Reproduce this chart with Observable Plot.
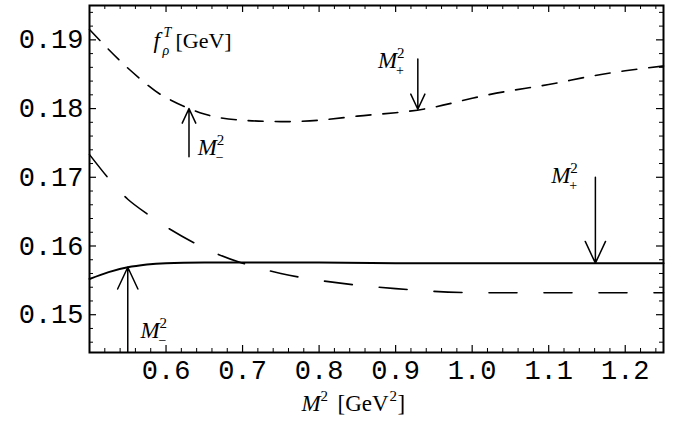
<!DOCTYPE html>
<html><head><meta charset="utf-8">
<script src="https://cdn.jsdelivr.net/npm/d3@7"></script>
<script src="https://cdn.jsdelivr.net/npm/@observablehq/plot@0.6"></script>
<style>body{margin:0;background:#fff}</style>
</head><body><div id="chart"></div>
<script>
// Upper short-dashed curve
const upperX = [0.50, 0.525, 0.55, 0.575, 0.60, 0.65, 0.70, 0.75, 0.80, 0.85, 0.90, 0.95, 1.00, 1.05, 1.10, 1.15, 1.20, 1.25];
const upperY = [0.1915, 0.1886, 0.1859, 0.1835, 0.1816, 0.1792, 0.1783, 0.1781, 0.1783, 0.1789, 0.1794, 0.1802, 0.1815, 0.1826, 0.1835, 0.1846, 0.1855, 0.1862];
// Lower long-dashed curve
const lowerX = [0.50, 0.525, 0.55, 0.575, 0.60, 0.65, 0.70, 0.75, 0.80, 0.85, 0.90, 0.95, 1.00, 1.05, 1.10, 1.15, 1.20, 1.25];
const lowerY = [0.1733, 0.1698, 0.1668, 0.1647, 0.1628, 0.1597, 0.1575, 0.1560, 0.1550, 0.1543, 0.1538, 0.1534, 0.1532, 0.1532, 0.1532, 0.1532, 0.1532, 0.1532];
// Solid curve
const solidX = [0.50, 0.525, 0.55, 0.575, 0.60, 0.65, 0.70, 0.80, 0.90, 1.00, 1.10, 1.25];
const solidY = [0.1552, 0.1562, 0.1569, 0.1573, 0.1575, 0.1576, 0.1576, 0.1576, 0.1575, 0.1575, 0.1575, 0.1575];
// Arrows (M_-^2 / M_+^2 markers)
const arrowX = [0.63, 0.929, 1.161, 0.55];
const arrowFrom = [0.1730, 0.1872, 0.1700, 0.1446];
const arrowTo = [0.1800, 0.1799, 0.1575, 0.1569];
// Arrow labels
const labelX = [0.6414, 0.877, 1.1034, 0.5668];
const labelY = [0.1733, 0.1859, 0.1692, 0.1466];
const labelSub = ["\u2212", "+", "+", "\u2212"];
// Ticks
const xMajorTicks = [0.6, 0.7, 0.8, 0.9, 1.0, 1.1, 1.2];
const xMinorTicks = [0.52, 0.54, 0.56, 0.58, 0.62, 0.64, 0.66, 0.68, 0.72, 0.74, 0.76, 0.78, 0.82, 0.84, 0.86, 0.88, 0.92, 0.94, 0.96, 0.98, 1.02, 1.04, 1.06, 1.08, 1.12, 1.14, 1.16, 1.18, 1.22, 1.24];
const yMajorTicks = [0.15, 0.16, 0.17, 0.18, 0.19];
const yMinorTicks = [0.146, 0.148, 0.152, 0.154, 0.156, 0.158, 0.162, 0.164, 0.166, 0.168, 0.172, 0.174, 0.176, 0.178, 0.182, 0.184, 0.186, 0.188, 0.192, 0.194];

const W = 680, H = 428, mL = 89, mR = 17, mT = 5, mB = 76;
const fw = W - mL - mR, fh = H - mT - mB;
const serif = "Liberation Serif";
const mono = "Liberation Mono";

function ticks(vals, len, sw) {
  return [
    Plot.tickX(vals, {x: d => d, insetTop: fh - len, strokeWidth: sw}),
    Plot.tickX(vals, {x: d => d, insetBottom: fh - len, strokeWidth: sw}),
  ];
}
function ticksY(vals, len, sw) {
  return [
    Plot.tickY(vals, {y: d => d, insetRight: fw - len, strokeWidth: sw}),
    Plot.tickY(vals, {y: d => d, insetLeft: fw - len, strokeWidth: sw}),
  ];
}
const idx = labelX.map((_, i) => i);
const T = (text, o) => Plot.text([0], {text: () => text, fontFamily: serif, textAnchor: "start", lineAnchor: "bottom", fill: "black", ...o});

const plot = Plot.plot({
  width: W, height: H,
  marginLeft: mL, marginRight: mR, marginTop: mT, marginBottom: mB,
  x: {domain: [0.5, 1.25]},
  y: {domain: [0.1445, 0.195]},
  style: {background: "white", color: "black", fontFamily: serif},
  marks: [
    ...ticks(xMajorTicks, 7, 1.2),
    ...ticks(xMinorTicks, 4, 1),
    ...ticksY(yMajorTicks, 7, 1.2),
    ...ticksY(yMinorTicks, 4, 1),
    Plot.axisX({ticks: xMajorTicks, tickSize: 0, tickPadding: 7, tickFormat: d3.format(".1f"), fontSize: 27, fontFamily: mono, label: null}),
    Plot.axisY({ticks: yMajorTicks, tickSize: 0, tickPadding: 6, tickFormat: d3.format(".2f"), fontSize: 27, fontFamily: mono, label: null}),
    Plot.line(upperY, {x: (d, i) => upperX[i], y: d => d, curve: "natural", stroke: "black", strokeWidth: 1.6, strokeDasharray: "15,12"}),
    Plot.line(lowerY, {x: (d, i) => lowerX[i], y: d => d, curve: "natural", stroke: "black", strokeWidth: 1.6, strokeDasharray: "28,27"}),
    Plot.line(solidY, {x: (d, i) => solidX[i], y: d => d, curve: "natural", stroke: "black", strokeWidth: 2}),
    Plot.arrow(arrowX, {x: d => d, y1: (d, i) => arrowFrom[i], y2: (d, i) => arrowTo[i], stroke: "black", strokeWidth: 1.5, headAngle: 50, headLength: 24, insetStart: 0, insetEnd: 0}),
    Plot.text(idx, {x: i => labelX[i], y: i => labelY[i], text: () => "M", fontStyle: "italic", fontSize: 23, fontFamily: serif, textAnchor: "start", lineAnchor: "bottom", fill: "black"}),
    Plot.text(idx, {x: i => labelX[i], y: i => labelY[i], text: () => "2", fontSize: 15, fontFamily: serif, textAnchor: "start", lineAnchor: "bottom", dx: 19, dy: -10, fill: "black"}),
    Plot.text(idx, {x: i => labelX[i], y: i => labelY[i], text: i => labelSub[i], fontSize: 14, fontFamily: serif, textAnchor: "start", lineAnchor: "bottom", dx: 18, dy: 7, fill: "black"}),
    // title f_rho^T [GeV]
    T("f", {frameAnchor: "top-left", dx: 64, dy: 42, fontSize: 23, fontStyle: "italic"}),
    T("T", {frameAnchor: "top-left", dx: 74, dy: 31, fontSize: 14, fontStyle: "italic"}),
    T("\u03C1", {frameAnchor: "top-left", dx: 73, dy: 49, fontSize: 14, fontStyle: "italic"}),
    T("[GeV]", {frameAnchor: "top-left", dx: 86, dy: 42, fontSize: 22}),
    // x label M^2 [GeV^2]
    T("M", {frameAnchor: "bottom", dx: -75, dy: 58, fontSize: 23, fontStyle: "italic"}),
    T("2", {frameAnchor: "bottom", dx: -56, dy: 48, fontSize: 15}),
    T("[GeV", {frameAnchor: "bottom", dx: -39, dy: 58, fontSize: 23}),
    T("2", {frameAnchor: "bottom", dx: 13, dy: 48, fontSize: 15}),
    T("]", {frameAnchor: "bottom", dx: 21, dy: 58, fontSize: 23}),
    Plot.frame({stroke: "black", strokeWidth: 2})
  ]
});
document.getElementById("chart").append(plot);
</script>
</body></html>
